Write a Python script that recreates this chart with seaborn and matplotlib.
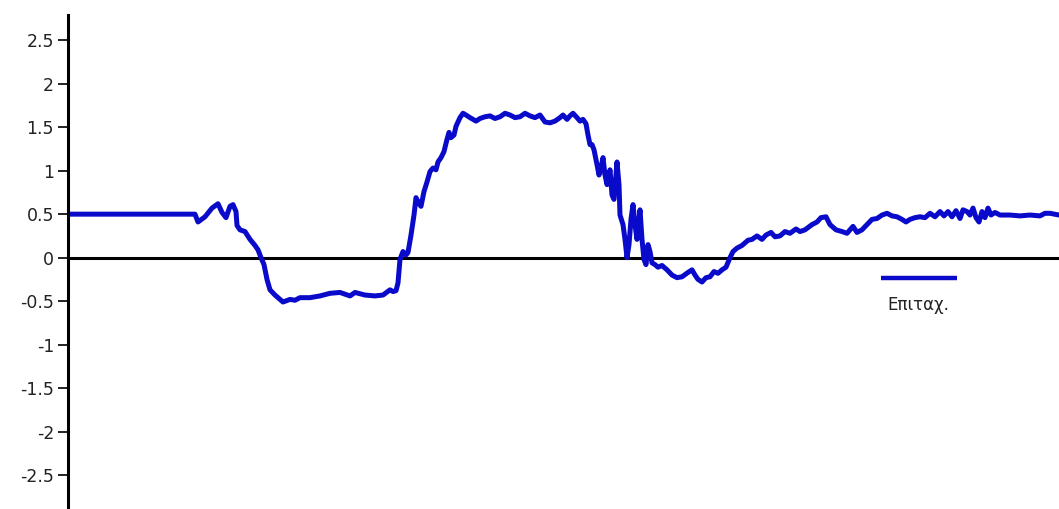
import matplotlib
matplotlib.use("Agg")
import matplotlib.pyplot as plt
import seaborn as sns
import pandas as pd

# Acceleration trace over time
time = [0.0, 12.7, 13.0, 13.7, 14.4, 15.0, 15.4, 15.8, 16.2, 16.5, 16.8, 16.9,
        17.2, 17.7, 18.2, 18.7, 19.0, 19.3, 19.6, 19.9, 20.2, 20.7, 21.2, 21.5,
        22.2, 22.7, 23.2, 24.2, 25.2, 26.2, 27.2, 28.2, 28.7, 29.7, 30.7, 31.5,
        32.2, 32.5, 32.8, 33.0, 33.2, 33.5, 33.8, 34.0, 34.3, 34.6, 34.8, 35.1,
        35.3, 35.6, 35.9, 36.2, 36.5, 36.8, 37.0, 37.3, 37.6, 37.9, 38.1, 38.3,
        38.6, 38.8, 39.2, 39.5, 39.8, 40.2, 40.5, 40.8, 41.2, 41.7, 42.2, 42.7,
        43.2, 43.7, 44.2, 44.7, 45.2, 45.7, 46.2, 46.7, 47.2, 47.7, 48.2, 48.7,
        49.2, 49.5, 49.9, 50.2, 50.5, 50.9, 51.2, 51.5, 51.8, 52.0, 52.2, 52.4,
        52.6, 52.9, 53.1, 53.3, 53.5, 53.7, 53.9, 54.2, 54.4, 54.6, 54.9, 55.1,
        55.2, 55.5, 55.7, 55.9, 56.1, 56.3, 56.5, 56.7, 56.9, 57.2, 57.4, 57.6,
        57.8, 58.0, 58.2, 58.4, 58.7, 59.0, 59.4, 59.9, 60.4, 60.9, 61.4, 62.0,
        62.4, 62.7, 63.0, 63.4, 63.8, 64.2, 64.6, 65.0, 65.4, 65.8, 66.2, 66.5,
        66.9, 67.4, 68.0, 68.4, 68.9, 69.4, 69.8, 70.3, 70.7, 71.2, 71.7, 72.2,
        72.8, 73.2, 73.7, 74.4, 74.9, 75.3, 75.8, 76.2, 76.8, 77.4, 77.9, 78.2,
        78.5, 78.9, 79.4, 79.9, 80.4, 80.9, 81.4, 81.9, 82.4, 82.9, 83.4, 83.8,
        84.2, 84.7, 85.2, 85.7, 86.2, 86.7, 87.2, 87.6, 88.0, 88.4, 88.8, 89.2,
        89.5, 89.9, 90.2, 90.5, 90.8, 91.1, 91.4, 91.7, 92.0, 92.3, 92.7, 93.2,
        94.2, 95.2, 96.2, 97.2, 97.7, 98.2, 99.1]

accel = [0.50, 0.50, 0.41, 0.47, 0.57, 0.62, 0.52, 0.46, 0.59, 0.61, 0.53, 0.37,
         0.32, 0.30, 0.21, 0.14, 0.09, 0.00, -0.08, -0.25, -0.37, -0.43, -0.48, -0.51,
         -0.48, -0.49, -0.46, -0.46, -0.44, -0.41, -0.40, -0.44, -0.40, -0.43, -0.44, -0.43,
         -0.37, -0.39, -0.38, -0.29, -0.02, 0.07, 0.03, 0.06, 0.26, 0.49, 0.69, 0.62,
         0.59, 0.76, 0.87, 0.99, 1.03, 1.01, 1.10, 1.15, 1.22, 1.36, 1.44, 1.38,
         1.41, 1.51, 1.61, 1.66, 1.64, 1.61, 1.59, 1.57, 1.60, 1.62, 1.63, 1.60,
         1.62, 1.66, 1.64, 1.61, 1.62, 1.66, 1.63, 1.61, 1.64, 1.56, 1.55, 1.57,
         1.61, 1.64, 1.59, 1.63, 1.66, 1.61, 1.57, 1.59, 1.54, 1.41, 1.30, 1.30,
         1.24, 1.07, 0.95, 1.03, 1.15, 0.95, 0.84, 1.01, 0.72, 0.67, 1.10, 0.84,
         0.49, 0.38, 0.21, 0.00, 0.15, 0.44, 0.61, 0.38, 0.21, 0.55, 0.21, -0.02,
         -0.08, 0.15, 0.07, -0.06, -0.08, -0.11, -0.09, -0.14, -0.20, -0.23, -0.22, -0.17,
         -0.14, -0.20, -0.25, -0.28, -0.23, -0.22, -0.16, -0.18, -0.14, -0.11, 0.00, 0.07,
         0.11, 0.14, 0.20, 0.21, 0.25, 0.21, 0.26, 0.29, 0.24, 0.25, 0.30, 0.28,
         0.33, 0.30, 0.32, 0.38, 0.41, 0.46, 0.47, 0.38, 0.32, 0.30, 0.28, 0.32,
         0.36, 0.29, 0.32, 0.38, 0.44, 0.45, 0.49, 0.51, 0.48, 0.47, 0.44, 0.41,
         0.44, 0.46, 0.47, 0.46, 0.51, 0.47, 0.53, 0.48, 0.53, 0.47, 0.54, 0.45,
         0.55, 0.53, 0.49, 0.57, 0.46, 0.41, 0.53, 0.46, 0.57, 0.49, 0.52, 0.49,
         0.49, 0.48, 0.49, 0.48, 0.51, 0.51, 0.49]

y_ticks = [2.5, 2, 1.5, 1, 0.5, 0, -0.5, -1, -1.5, -2, -2.5]
y_tick_labels = ["2.5", "2", "1.5", "1", "0.5", "0", "-0.5", "-1", "-1.5", "-2", "-2.5"]
series_label = "Επιταχ."

df = pd.DataFrame({"t": time, "a": accel})

sns.set_theme(style="white")
plt.rcParams["font.family"] = ["DejaVu Sans"]

fig = plt.figure(figsize=(10.59, 5.09), dpi=100)
ax = fig.add_axes([68 / 1059, 0.0, 1 - 68 / 1059, 1 - 15 / 509])

line_color = "#0a0acb"
sns.lineplot(data=df, x="t", y="a", ax=ax, color=line_color, linewidth=3.6,
             legend=False, estimator=None, sort=False)

ax.axhline(0, color="black", linewidth=2.2, zorder=1)

ax.set_xlim(0, 99.1)
ax.set_ylim(-2.89, 2.79)

ax.set_yticks(y_ticks)
ax.set_yticklabels(y_tick_labels)
ax.set_xticks([])
ax.set_xlabel("")
ax.set_ylabel("")

for side in ["top", "right", "bottom"]:
    ax.spines[side].set_visible(False)
ax.spines["left"].set_color("black")
ax.spines["left"].set_linewidth(2.2)

ax.tick_params(axis="y", which="major", direction="out", length=7, width=1.4,
               color="#222222", labelsize=12.5, labelcolor="#222222", pad=3, left=True)

# Key: sample line with its label underneath
ax.plot([0.820, 0.897], [0.4676, 0.4676], transform=ax.transAxes,
        color=line_color, linewidth=3.2, solid_capstyle="butt")
ax.text(0.858, 0.413, series_label, transform=ax.transAxes, ha="center",
        va="center", fontsize=12, color="#222222")

fig.savefig("out.png", dpi=100)
